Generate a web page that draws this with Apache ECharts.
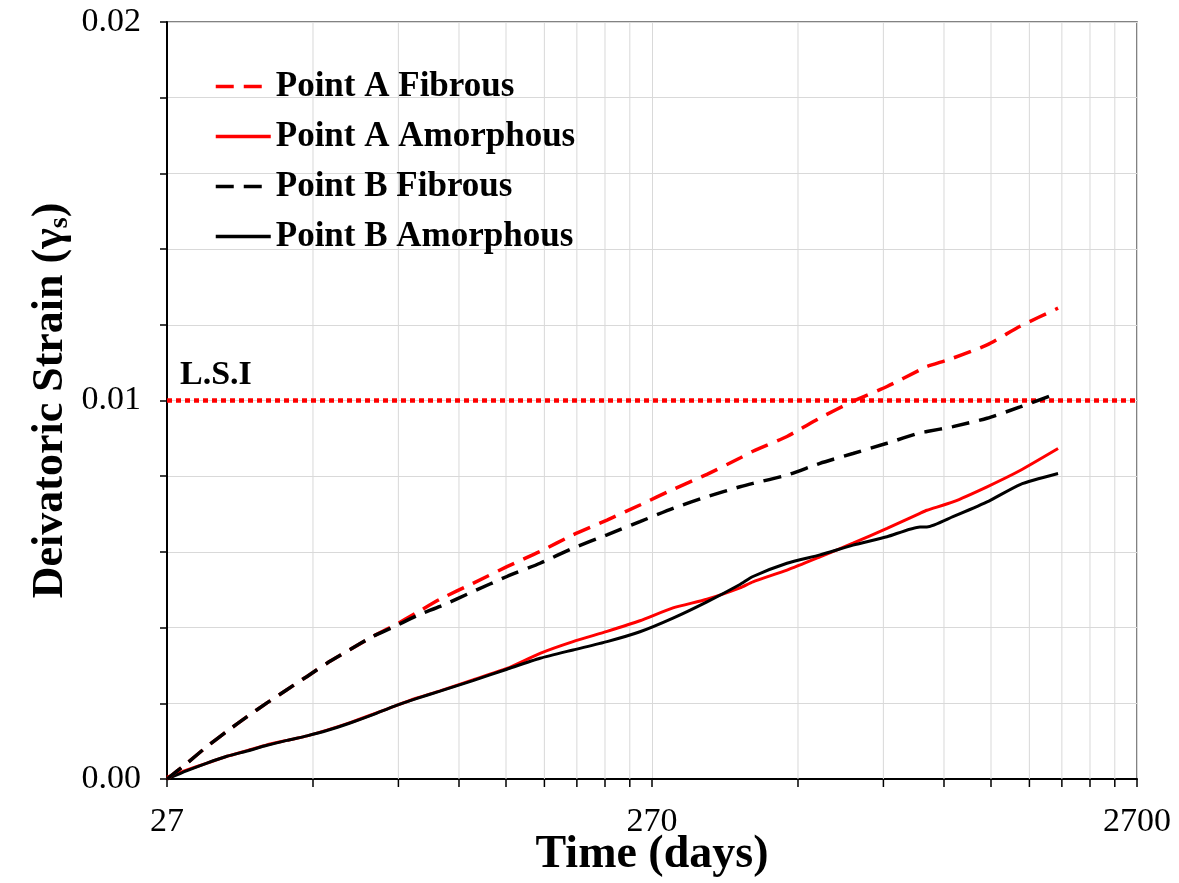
<!DOCTYPE html>
<html><head><meta charset="utf-8">
<script src="https://cdn.jsdelivr.net/npm/echarts@6/dist/echarts.min.js"></script>
<style>html,body{margin:0;padding:0;background:#fff}#c{width:1179px;height:883px}</style>
</head><body><div id="c"></div>
<script>
// ---- data ----
const BASE_DAY = 27;
const xTickLabels = ['27', '270', '2700'];
const minorTickDays = [54, 81, 108, 135, 162, 189, 216, 243, 540, 810, 1080, 1350, 1620, 1890, 2160, 2430];
const timeDays = [27, 29.7, 32.65, 35.9, 39.5, 43.4, 47.7, 52.5, 57.7, 64.4, 71.8, 79.3, 88.5, 98.7, 115.4, 135.6, 158.7, 185.6, 218.1, 255, 298.3, 350.5, 410, 436, 512.5, 599.4, 701, 824, 963.6, 996, 1127, 1325, 1550, 1856];
const pointAFibrous = [0, 0.00042, 0.00086, 0.00126, 0.00165, 0.00201, 0.00236, 0.00271, 0.00306, 0.00342, 0.00377, 0.00405, 0.0044, 0.00475, 0.00517, 0.00561, 0.00601, 0.00645, 0.00684, 0.00724, 0.00765, 0.00805, 0.00848, 0.00866, 0.00905, 0.00954, 0.00998, 0.01037, 0.01081, 0.0109, 0.01112, 0.01147, 0.01196, 0.01244];
const pointAAmorphous = [0.00005, 0.00024, 0.00042, 0.0006, 0.00075, 0.0009, 0.00102, 0.00114, 0.00129, 0.00149, 0.00171, 0.00192, 0.00214, 0.00233, 0.00262, 0.00292, 0.00332, 0.00363, 0.0039, 0.00418, 0.00452, 0.00475, 0.00505, 0.00521, 0.00552, 0.00587, 0.00623, 0.00662, 0.00702, 0.0071, 0.00732, 0.00772, 0.00815, 0.00873];
const pointBFibrous = [0, 0.00042, 0.00086, 0.00126, 0.00165, 0.00201, 0.00236, 0.00271, 0.00306, 0.00342, 0.00377, 0.00402, 0.00432, 0.00456, 0.00495, 0.00535, 0.0057, 0.0061, 0.00645, 0.0068, 0.00715, 0.00746, 0.00772, 0.00781, 0.00803, 0.00834, 0.0086, 0.00887, 0.00915, 0.00918, 0.00931, 0.00953, 0.00983, 0.0102];
const pointBAmorphous = [0, 0.00022, 0.00042, 0.0006, 0.00074, 0.00089, 0.00102, 0.00114, 0.00128, 0.00148, 0.0017, 0.00192, 0.00213, 0.00232, 0.0026, 0.0029, 0.00319, 0.00341, 0.00363, 0.00389, 0.00425, 0.00468, 0.00514, 0.00535, 0.0057, 0.00592, 0.00618, 0.0064, 0.00666, 0.00666, 0.00693, 0.00732, 0.00778, 0.00807];
const LSI_VALUE = 0.01;
const Y_MIN = 0, Y_MAX = 0.02, Y_STEP = 0.002;

// ---- chart ----
const FONT = 'Liberation Serif';
const toU = d => Math.log10(d / BASE_DAY);
const pts = arr => timeDays.map((d, i) => [toU(d), arr[i]]);
const chart = echarts.init(document.getElementById('c'));
const names = ['Point A Fibrous', 'Point A Amorphous', 'Point B Fibrous', 'Point B Amorphous'];
const DASH = [18, 10];

chart.setOption({
  animation: false,
  backgroundColor: '#fff',
  grid: { left: 167, right: 42, top: 22, bottom: 104, outerBoundsMode: 'none', containLabel: false,
    show: true, borderColor: '#595959', borderWidth: 1.5 },
  xAxis: {
    type: 'value', min: 0, max: 2, interval: 1,
    name: 'Time (days)', nameLocation: 'middle', nameGap: 53, nameMoveOverlap: false,
    nameTextStyle: { fontFamily: FONT, fontWeight: 'bold', fontSize: 46, color: '#000' },
    axisLine: { show: true, lineStyle: { color: '#000', width: 2 } },
    axisTick: { show: true, inside: false, length: 8, lineStyle: { color: '#000', width: 1.5 } },
    axisLabel: { margin: 26, fontFamily: FONT, fontSize: 34, color: '#000',
      formatter: v => xTickLabels[Math.round(v)] },
    splitLine: { show: true, lineStyle: { color: '#d9d9d9', width: 1 } }
  },
  yAxis: {
    type: 'value', min: Y_MIN, max: Y_MAX, interval: Y_STEP,
    name: '{a|Deivatoric Strain (}{g|γ}{s|s}{a|)}', nameLocation: 'middle', nameGap: 93, nameMoveOverlap: false,
    nameTextStyle: { fontFamily: FONT, fontWeight: 'bold', fontSize: 44, color: '#000',
      rich: {
        a: { fontFamily: FONT, fontWeight: 'bold', fontSize: 44, color: '#000' },
        g: { fontFamily: FONT, fontSize: 44, color: '#000' },
        s: { fontFamily: FONT, fontWeight: 'bold', fontSize: 28, color: '#000', padding: [18, 0, 0, 0] }
      } },
    axisLine: { show: true, lineStyle: { color: '#000', width: 2 } },
    axisTick: { show: true, inside: false, length: 7, lineStyle: { color: '#000', width: 1.5 } },
    axisLabel: { margin: 26, fontFamily: FONT, fontSize: 34, color: '#000',
      formatter: v => (Math.round(v * 1000) % 10 === 0 ? v.toFixed(2) : '') },
    splitLine: { show: true, lineStyle: { color: '#d9d9d9', width: 1 } }
  },
  legend: {
    data: names, orient: 'vertical', left: 209, top: 64,
    itemWidth: 55, itemHeight: 14, itemGap: 15,
    itemStyle: { opacity: 0, borderWidth: 0 },
    lineStyle: { width: 3.5 },
    textStyle: { fontFamily: FONT, fontWeight: 'bold', fontSize: 35, color: '#000' }
  },
  graphic: [{
    type: 'text', left: 180, top: 358,
    style: { text: 'L.S.I', fontFamily: FONT, fontWeight: 'bold', fontSize: 34, fill: '#000' }
  }],
  series: [
    {
      type: 'custom', silent: true, z: 1, clip: false,
      data: minorTickDays.map(d => [toU(d), Y_MIN]),
      encode: { x: 0, y: 1 },
      renderItem: (params, api) => {
        const x = api.value(0);
        const b = api.coord([x, Y_MIN]);
        const t = api.coord([x, Y_MAX]);
        return { type: 'group', children: [
          { type: 'line', shape: { x1: b[0], y1: b[1], x2: t[0], y2: t[1] }, style: { stroke: '#d9d9d9', lineWidth: 1 } },
          { type: 'line', shape: { x1: b[0], y1: b[1], x2: b[0], y2: b[1] + 8 }, style: { stroke: '#000', lineWidth: 1.5 } }
        ] };
      }
    },
    {
      name: names[0], type: 'line', symbol: 'none', smooth: 0.2, z: 5,
      data: pts(pointAFibrous), itemStyle: { color: '#ff0000' },
      lineStyle: { color: '#ff0000', width: 3.5, type: DASH },
      markLine: { silent: true, symbol: 'none', label: { show: false },
        lineStyle: { color: '#ff0000', type: [5, 4], width: 4.5 },
        data: [{ yAxis: LSI_VALUE }] }
    },
    {
      name: names[1], type: 'line', symbol: 'none', smooth: 0.2, z: 4,
      data: pts(pointAAmorphous), itemStyle: { color: '#ff0000' },
      lineStyle: { color: '#ff0000', width: 3, type: 'solid' }
    },
    {
      name: names[2], type: 'line', symbol: 'none', smooth: 0.2, z: 5,
      data: pts(pointBFibrous), itemStyle: { color: '#000' },
      lineStyle: { color: '#000', width: 3.5, type: DASH }
    },
    {
      name: names[3], type: 'line', symbol: 'none', smooth: 0.2, z: 4,
      data: pts(pointBAmorphous), itemStyle: { color: '#000' },
      lineStyle: { color: '#000', width: 3, type: 'solid' }
    }
  ]
});
</script></body></html>
